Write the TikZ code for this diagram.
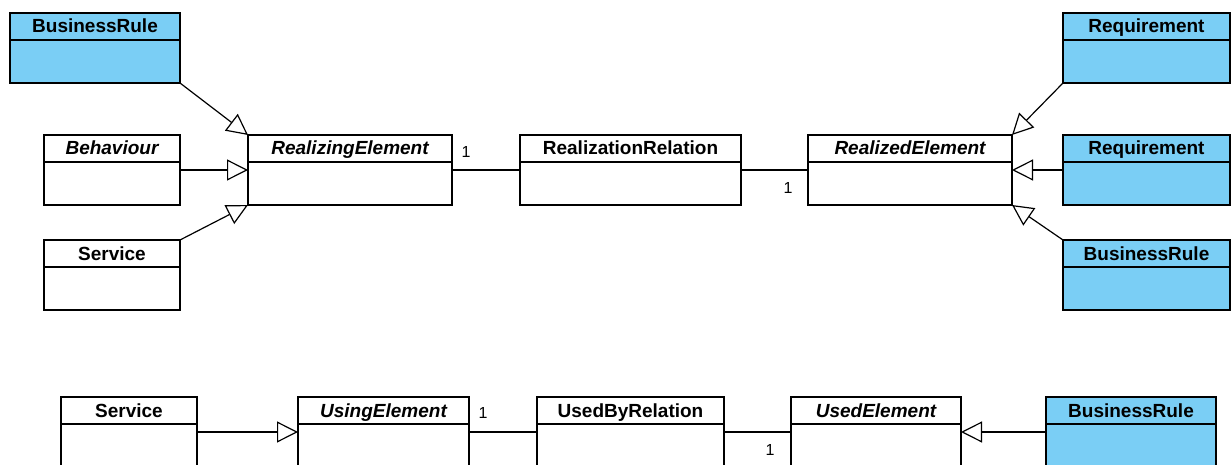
\documentclass[tikz,border=0pt]{standalone}
\usepackage{fontspec}
\setmainfont{Liberation Sans}
\usetikzlibrary{positioning,arrows.meta}
\definecolor{reqblue}{RGB}{122,206,245}
\newcommand{\clsfont}{\fontsize{19}{21}\selectfont\bfseries}
\newcommand{\multfont}{\fontsize{16}{18}\selectfont}

\begin{document}
\begin{tikzpicture}[x=1pt ,y=-1pt ,line width=1.2pt ,
cls/.style ={rectangle ,draw ,fill=white ,minimum height=70pt ,inner sep=0pt ,outer sep=0pt ,
text height=20pt ,text depth=50pt ,font=\clsfont ,
path picture={\draw ([yshift=-27pt]path picture bounding box.north west) -- ([yshift=-27pt]path picture bounding box.north east);}},
abstr/.style ={cls ,font=\clsfont\itshape},
req/.style ={cls ,fill=reqblue},
gen/.style ={-{Triangle[open ,length=21pt ,width=21pt]}},
mult/.style ={inner sep=0pt ,font=\multfont}]
\useasboundingbox (0,0) rectangle (1231,465);
\clip (0,0) rectangle (1231,465);

\node[abstr, minimum width=204pt] (realizing) at (350,170) {RealizingElement};
\node[cls, minimum width=221pt] (relation) [right=68pt of realizing] {RealizationRelation};
\node[abstr, minimum width=204pt] (realized) [right=67pt of relation] {RealizedElement};
\node[req, minimum width=167pt] (req2) [right=51pt of realized] {Requirement};
\node[req, minimum width=167pt] (req1) [above=52pt of req2] {Requirement};
\node[req, minimum width=167pt] (rule2) [below=35pt of req2] {BusinessRule};
\node[abstr, minimum width=136pt] (behaviour) [left=68pt of realizing] {Behaviour};
\node[cls, minimum width=136pt] (service) [below=35pt of behaviour] {Service};
\node[req, minimum width=170pt] (rule1) [above left=52pt and 0pt of behaviour.north east] {BusinessRule};

\node[cls, minimum width=136pt] (service2) at (129,432) {Service};
\node[abstr, minimum width=171pt] (using) [right=101pt of service2] {UsingElement};
\node[cls, minimum width=187pt] (usedby) [right=68pt of using] {UsedByRelation};
\node[abstr, minimum width=170pt] (used) [right=67pt of usedby] {UsedElement};
\node[req, minimum width=170pt] (rule3) [right=85pt of used] {BusinessRule};

\draw[gen] (rule1.south east) -- (realizing.north west);
\draw[gen] (behaviour.east) -- (realizing.west);
\draw[gen] (service.north east) -- (realizing.south west);
\draw (realizing.east) -- (relation.west) node[mult, at start, above right=12pt and 9pt] {1};
\draw (relation.east) -- (realized.west) node[mult, at end, below left=12pt and 15pt] {1};
\draw[gen] (req1.south west) -- (realized.north east);
\draw[gen] (req2.west) -- (realized.east);
\draw[gen] (rule2.north west) -- (realized.south east);

\draw[gen] (service2.east) -- (using.west);
\draw (using.east) -- (usedby.west) node[mult, at start, above right=13pt and 9pt] {1};
\draw (usedby.east) -- (used.west) node[mult, at end, below left=12pt and 16pt] {1};
\draw[gen] (rule3.west) -- (used.east);
\end{tikzpicture}
\end{document}
